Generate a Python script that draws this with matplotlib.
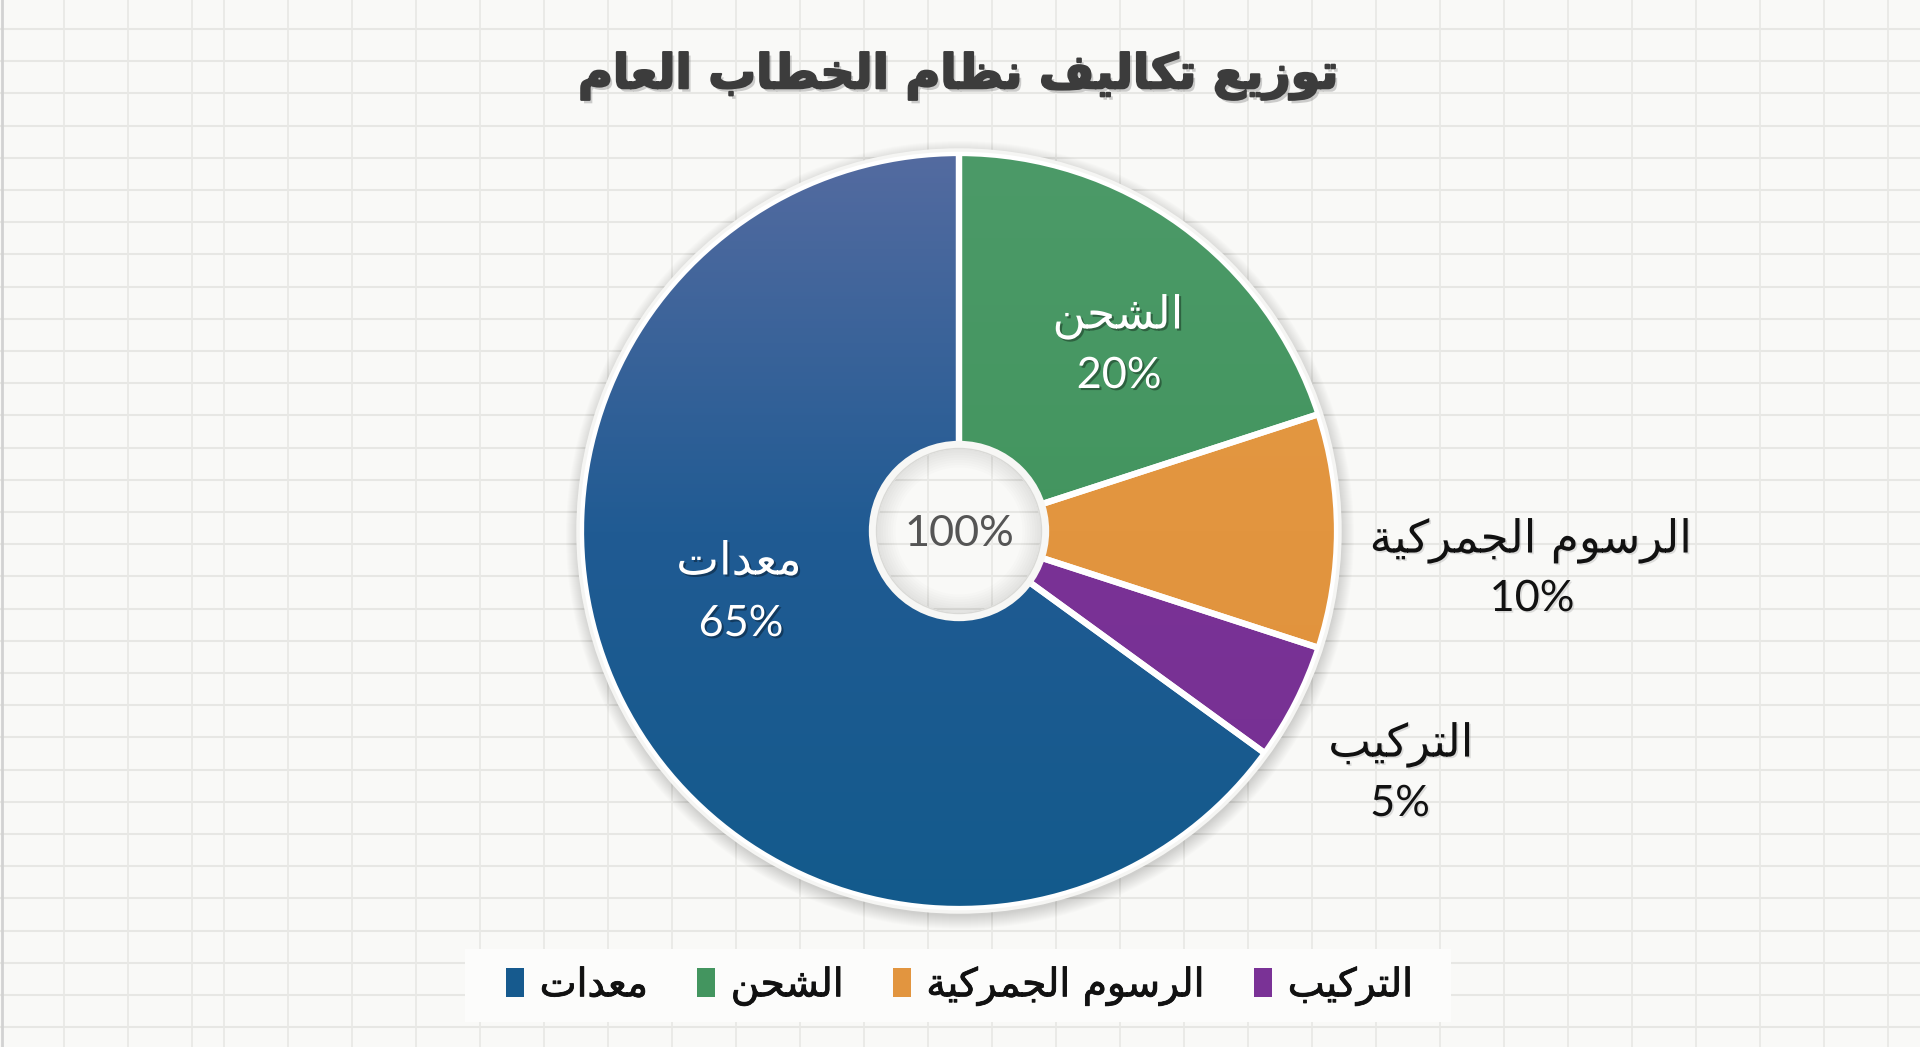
import matplotlib
matplotlib.use("Agg")
import matplotlib.pyplot as plt
import numpy as np
from matplotlib.patches import Circle, Rectangle, Patch, Wedge
from matplotlib.colors import LinearSegmentedColormap
import matplotlib.patheffects as pe

# ---------------- data ----------------
title_text = "توزيع تكاليف نظام الخطاب العام"
categories = ["الشحن", "الرسوم الجمركية", "التركيب", "معدات"]
values = [20, 10, 5, 65]
colors = ["#43955f", "#e2953f", "#7a3296", "#165a8e"]
legend_order = ["معدات", "الشحن", "الرسوم الجمركية", "التركيب"]
center_label = "100%"

# ---------------- minimal Arabic shaping (no external libs) ----------------
_counts = ([(0x0621, 1), (0x0622, 2), (0x0623, 2), (0x0624, 2), (0x0625, 2), (0x0626, 4),
            (0x0627, 2), (0x0628, 4), (0x0629, 2)]
           + [(c, 4) for c in range(0x062A, 0x062F)]
           + [(0x062F, 2), (0x0630, 2), (0x0631, 2), (0x0632, 2)]
           + [(c, 4) for c in range(0x0633, 0x063B)]
           + [(c, 4) for c in range(0x0641, 0x0648)]
           + [(0x0648, 2), (0x0649, 2), (0x064A, 4)])
FORMS = {}
_p = 0xFE80
for _c, _n in _counts:
    FORMS[chr(_c)] = [chr(_p + i) for i in range(_n)]
    _p += _n
LIG = {'\u0627': ('\uFEFB', '\uFEFC'), '\u0622': ('\uFEF5', '\uFEF6'),
       '\u0623': ('\uFEF7', '\uFEF8'), '\u0625': ('\uFEF9', '\uFEFA')}


def ar(s):
    def dual(c):
        return c in FORMS and len(FORMS[c]) == 4

    def joinable(c):
        return c in FORMS and len(FORMS[c]) >= 2
    out, i, n = [], 0, len(s)
    while i < n:
        c = s[i]
        if c not in FORMS:
            out.append(c)
            i += 1
            continue
        jp = i > 0 and dual(s[i - 1])
        if c == '\u0644' and i + 1 < n and s[i + 1] in LIG:
            out.append(LIG[s[i + 1]][1] if jp else LIG[s[i + 1]][0])
            i += 2
            continue
        f = FORMS[c]
        if len(f) == 1:
            out.append(f[0])
            i += 1
            continue
        jn = dual(c) and i + 1 < n and joinable(s[i + 1])
        if jp and jn:
            g = f[3]
        elif jp:
            g = f[1]
        elif jn:
            g = f[2]
        else:
            g = f[0]
        out.append(g)
        i += 1
    return ''.join(reversed(out))


# ---------------- layout ----------------
W, H = 1920, 1047
CX, CY = 959, 531
R_OUT = 378
R_IN = 86
label_pos = {  # (name center, pct center) in pixels
    "الشحن": ((1118, 317), (1119, 376)),
    "الرسوم الجمركية": ((1531, 541), (1532, 599)),
    "التركيب": ((1401, 745), (1400, 804)),
    "معدات": ((739, 562), (741, 624)),
}
inside = {"الشحن", "معدات"}

AR_FONT = ["DejaVu Sans"]
NUM_FONT = ["Lato", "DejaVu Sans"]

fig = plt.figure(figsize=(W / 100, H / 100), dpi=100)
fig.patch.set_facecolor("#f9f9f7")
ax = fig.add_axes([0, 0, 1, 1])
ax.set_xlim(0, W)
ax.set_ylim(0, H)
ax.axis("off")


def Y(y):
    return H - y


# grid paper background
for k in range(40):
    yy = 29 + 32.2 * k
    if yy < H:
        ax.axhline(Y(yy), color="#e7e7e4", lw=1.5, zorder=0)
xs = [64, 128, 192] + list(range(224, W, 64))
for xx in xs:
    ax.axvline(xx, color="#e9e9e6", lw=1.3, zorder=0)
ax.axvline(1.5, color="#d2d2d2", lw=2, zorder=0)

# soft shadow ring around the pie
for i in range(14):
    ax.add_patch(Wedge((CX + 1, Y(CY) - 4), R_OUT + 16 - i, 0, 360, width=30,
                       facecolor="#000000", edgecolor="none", alpha=0.012, zorder=1))

# donut
wedges, _ = ax.pie(values, colors=colors, startangle=90, counterclock=False,
                   center=(CX, Y(CY)), radius=R_OUT, frame=False,
                   wedgeprops=dict(width=R_OUT - R_IN, edgecolor="none", linewidth=0))
for w in wedges:
    w.set_zorder(2)

# vertical shading gradients clipped to each wedge
grad_maps = {
    3: ["#546ba0", "#205b93", "#135a8c"],
    0: ["#4c9a68", "#43955f", "#3d915b"],
    1: ["#e59a45", "#e2953f", "#df913b"],
    2: ["#7e3598", "#7a3296", "#763093"],
}
grad = np.linspace(0, 1, 256).reshape(-1, 1)
for idx, cl in grad_maps.items():
    cm = LinearSegmentedColormap.from_list("g%d" % idx, cl)
    im = ax.imshow(grad, cmap=cm, extent=[CX - R_OUT, CX + R_OUT, Y(CY) - R_OUT, Y(CY) + R_OUT],
                   origin="upper", aspect="auto", zorder=2.5, interpolation="bilinear")
    im.set_clip_path(wedges[idx])

# white separators / outline
w2, _ = ax.pie(values, colors=["none"] * 4, startangle=90, counterclock=False,
               center=(CX, Y(CY)), radius=R_OUT, frame=False,
               wedgeprops=dict(width=R_OUT - R_IN, edgecolor="white", linewidth=4.5))
for w in w2:
    w.set_zorder(3)
ax.add_patch(Circle((CX, Y(CY)), R_OUT + 3, facecolor="none", edgecolor="#f5f5f3", lw=2.5, zorder=3))

# hole: light vignette + white ring
for i in range(8):
    ax.add_patch(Wedge((CX, Y(CY)), R_IN - 1, 0, 360, width=4 + i * 2.5, facecolor="#000000",
                       edgecolor="none", alpha=0.012, zorder=2))
ax.add_patch(Circle((CX, Y(CY)), R_IN, facecolor="none", edgecolor="#f7f7f5", lw=6, zorder=3.2))
ax.add_patch(Circle((CX, Y(CY)), R_IN - 3.5, facecolor="none", edgecolor="#d9d9d6", lw=1, zorder=3.2))

ax.set_xlim(0, W)
ax.set_ylim(0, H)

renderer = fig.canvas.get_renderer()


def fit(t, target):
    bb = t.get_window_extent(renderer)
    t.set_fontsize(t.get_fontsize() * target / bb.width)
    return t.get_fontsize()


shadow_dark = [pe.SimplePatchShadow(offset=(1.5, -1.5), shadow_rgbFace="black", alpha=0.35), pe.Normal()]
shadow_light = [pe.SimplePatchShadow(offset=(1.2, -1.2), shadow_rgbFace="#888888", alpha=0.25), pe.Normal()]

# title
tt = ax.text(958, Y(76), ar(title_text), ha="center", va="center", fontsize=40,
             fontweight="bold", family=AR_FONT, color="#3c3c3c", zorder=5,
             path_effects=[pe.SimplePatchShadow(offset=(2, -2.5), shadow_rgbFace="#777777", alpha=0.35),
                           pe.Stroke(linewidth=1.5, foreground="#3c3c3c"), pe.Normal()])
fit(tt, 760)

# label font size fitted on the longest label
probe = ax.text(0, 0, ar("الرسوم الجمركية"), fontsize=30, family=AR_FONT)
lab_fs = fit(probe, 322)
probe.remove()
probe = ax.text(0, 0, center_label, fontsize=30, family=NUM_FONT)
num_fs = fit(probe, 110)
probe.remove()

for name, val in zip(categories, values):
    (nx, ny), (px, py) = label_pos[name]
    col = "white" if name in inside else "#111111"
    eff = shadow_dark if name in inside else shadow_light
    ax.text(nx, Y(ny), ar(name), ha="center", va="center", fontsize=lab_fs,
            family=AR_FONT, color=col, zorder=6, path_effects=eff)
    ax.text(px, Y(py), "%d%%" % val, ha="center", va="center", fontsize=num_fs,
            family=NUM_FONT, color=col, zorder=6, path_effects=eff)

ax.text(CX, Y(CY + 3), center_label, ha="center", va="center", fontsize=num_fs,
        family=NUM_FONT, color="#555555", zorder=6)

# legend box
ax.add_patch(Rectangle((465, Y(1022)), 986, 73, facecolor="#fcfcfb", edgecolor="none", zorder=4))
probe = ax.text(0, 0, ar("الرسوم الجمركية"), fontsize=30, family=AR_FONT)
leg_fs = fit(probe, 278)
probe.remove()
cmap_cat = dict(zip(categories, colors))
handles = [Patch(facecolor=cmap_cat[c], edgecolor="none") for c in legend_order]
leg = ax.legend(handles, [ar(c) for c in legend_order], ncol=4, loc="center",
                bbox_to_anchor=(960 / W, 1 - 986 / H), bbox_transform=fig.transFigure,
                frameon=False, prop=dict(family=AR_FONT, size=leg_fs),
                handlelength=0.45, handleheight=0.75, handletextpad=0.4, columnspacing=1.25)
leg.set_zorder(5)
for t in leg.get_texts():
    t.set_color("#111111")
    t.set_path_effects([pe.Stroke(linewidth=0.6, foreground="#111111"), pe.Normal()])

fig.savefig("out.png", dpi=100, facecolor=fig.get_facecolor())
